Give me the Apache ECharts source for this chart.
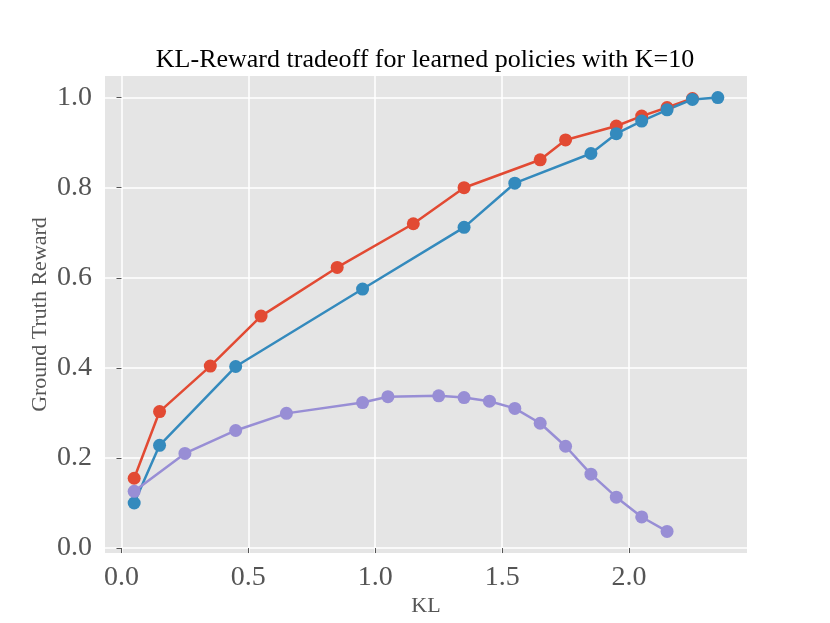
<!DOCTYPE html>
<html>
<head>
<meta charset="utf-8">
<script src="https://cdn.jsdelivr.net/npm/echarts@6/dist/echarts.min.js"></script>
<style>html,body{margin:0;padding:0;background:#fff}#c{width:830px;height:623px}</style>
</head>
<body>
<div id="c"></div>
<script>
const xTicks = [0, 0.5, 1.0, 1.5, 2.0];
const yTicks = [0, 0.2, 0.4, 0.6, 0.8, 1.0];

const redX = [0.05, 0.15, 0.35, 0.55, 0.85, 1.15, 1.35, 1.65, 1.75, 1.95, 2.05, 2.15, 2.25];
const redY = [0.155, 0.303, 0.404, 0.515, 0.623, 0.720, 0.800, 0.862, 0.906, 0.937, 0.959, 0.978, 0.998];

const blueX = [0.05, 0.15, 0.45, 0.95, 1.35, 1.55, 1.85, 1.95, 2.05, 2.15, 2.25, 2.35];
const blueY = [0.100, 0.228, 0.403, 0.575, 0.712, 0.810, 0.876, 0.920, 0.948, 0.973, 0.996, 1.000];

const purpleX = [0.05, 0.25, 0.45, 0.65, 0.95, 1.05, 1.25, 1.35, 1.45, 1.55, 1.65, 1.75, 1.85, 1.95, 2.05, 2.15];
const purpleY = [0.126, 0.210, 0.261, 0.299, 0.323, 0.336, 0.338, 0.334, 0.326, 0.310, 0.277, 0.226, 0.164, 0.113, 0.069, 0.037];

const zip = (xs, ys) => xs.map((x, i) => [x, ys[i]]);
const font = 'Liberation Serif';

const chart = echarts.init(document.getElementById('c'), null, {renderer: 'canvas'});
function mk(name, xs, ys, color) {
  return {
    name, type: 'line', data: zip(xs, ys),
    symbol: 'circle', symbolSize: 13,
    lineStyle: {color, width: 2.5},
    itemStyle: {color},
    animation: false, z: 3
  };
}
chart.setOption({
  animation: false,
  title: {
    text: 'KL-Reward tradeoff for learned policies with K=10',
    left: 420, textAlign: 'center', top: 42,
    textStyle: {fontFamily: font, fontSize: 26, fontWeight: 'normal', color: '#000'}
  },
  grid: {left: 105, right: 83, top: 76, bottom: 70, show: true, backgroundColor: '#E5E5E5', borderWidth: 0},
  xAxis: {
    type: 'value', min: -0.065, max: 2.465,
    name: 'KL', nameLocation: 'middle', nameGap: 42, nameMoveOverlap: false,
    nameTextStyle: {fontFamily: font, fontSize: 22, color: '#555'},
    axisLine: {show: false},
    axisTick: {show: true, inside: false, length: 5, lineStyle: {color: '#555', width: 1}, customValues: xTicks},
    axisLabel: {customValues: xTicks, fontFamily: font, fontSize: 28, color: '#555', margin: 11,
      formatter: v => v.toFixed(1)},
    splitLine: {show: true, lineStyle: {color: '#fff', width: 1.5}}
  },
  yAxis: {
    type: 'value', min: -0.011, max: 1.048,
    name: 'Ground Truth Reward', nameLocation: 'middle', nameGap: 54, nameMoveOverlap: false,
    nameTextStyle: {fontFamily: font, fontSize: 22, color: '#555'},
    axisLine: {show: false},
    axisTick: {show: true, inside: false, length: 5, lineStyle: {color: '#555', width: 1}, customValues: yTicks},
    axisLabel: {customValues: yTicks, fontFamily: font, fontSize: 28, color: '#555', margin: 13,
      formatter: v => v.toFixed(1)},
    splitLine: {show: true, lineStyle: {color: '#fff', width: 1.5}}
  },
  series: [
    mk('red', redX, redY, '#E24A33'),
    mk('blue', blueX, blueY, '#348ABD'),
    mk('purple', purpleX, purpleY, '#988ED5')
  ]
});
</script>
</body>
</html>
